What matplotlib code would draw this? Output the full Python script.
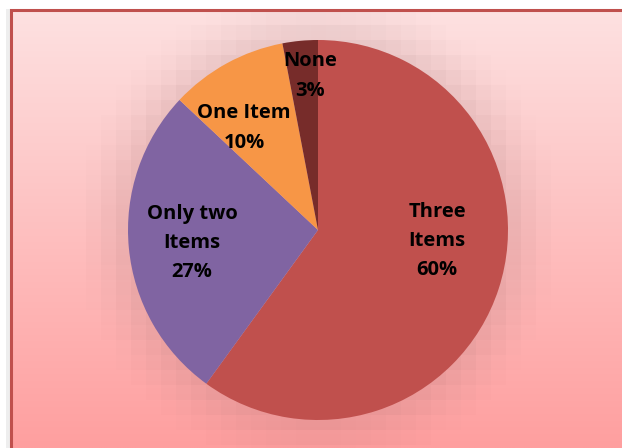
import numpy as np
import matplotlib
matplotlib.use("Agg")
import matplotlib.pyplot as plt
from matplotlib.colors import to_rgb

# Survey result: number of items owned
categories = ["Three\nItems", "Only two\nItems", "One Item", "None"]
percents = [60, 27, 10, 3]
colors = ["#C0504D", "#8064A2", "#F79646", "#772C2A"]

W, H = 622, 448
fig = plt.figure(figsize=(W / 100, H / 100), dpi=100)
ax = fig.add_axes([0, 0, 1, 1])
ax.set_xlim(0, W)
ax.set_ylim(0, H)
ax.set_aspect("equal")
ax.axis("off")

cx, cy, r = 318, H - 230, 190

# light gray strip to the left of the chart frame
ax.add_patch(plt.Rectangle((6, 0), 5, H - 9, facecolor="#EEEEEE", edgecolor="none", zorder=0))

# vertical gradient background of the chart area
x0, y_top = 11, H - 10
top = np.array(to_rgb("#FDE1E1"))
bot = np.array(to_rgb("#FF9F9F"))
t = np.linspace(0, 1, 256)[:, None]
grad = (top * (1 - t) + bot * t)[:, None, :]
grad = np.repeat(grad, 2, axis=1)
ax.imshow(grad, extent=(x0, W, 0, y_top), aspect="auto", zorder=1, interpolation="bilinear")

# blocky soft shadow around the pie
bs = 15
nx, ny = int(np.ceil((W - x0) / bs)), int(np.ceil(y_top / bs))
xs = x0 + (np.arange(nx) + 0.5) * bs
ys = y_top - (np.arange(ny) + 0.5) * bs
XX, YY = np.meshgrid(xs, ys)
d = np.hypot(XX - cx, YY - cy) - r
alpha = np.clip(1 - d / 55, 0, 1) ** 1.6 * 0.14
shadow = np.zeros((ny, nx, 4))
shadow[..., :3] = to_rgb("#6E4848")
shadow[..., 3] = alpha
ax.imshow(shadow, extent=(x0, x0 + nx * bs, y_top - ny * bs, y_top), aspect="auto",
          zorder=2, interpolation="nearest")

# chart frame
ax.plot([x0, x0, W + 5], [0, y_top, y_top], color="#C0504D", lw=2.2, zorder=3,
        solid_joinstyle="miter")

wedges, _ = ax.pie(percents, colors=colors, startangle=90, counterclock=False,
                   center=(cx, cy), radius=r, frame=True,
                   wedgeprops=dict(linewidth=0, zorder=4))
for w in wedges:
    w.set_zorder(4)
ax.set_xlim(0, W)
ax.set_ylim(0, H)
ax.axis("off")

# label positions as fractions of the radius
label_offsets = [(0.626, -0.058), (-0.663, -0.068), (-0.389, 0.537), (-0.042, 0.81)]
for name, pct, (fx, fy) in zip(categories, percents, label_offsets):
    ax.text(cx + fx * r, cy + fy * r, f"{name}\n{pct}%", ha="center", va="center",
            fontsize=14.5, fontweight="bold", family=["Open Sans", "DejaVu Sans"],
            linespacing=1.62, color="black", zorder=5)

fig.savefig("out.png", dpi=100)
